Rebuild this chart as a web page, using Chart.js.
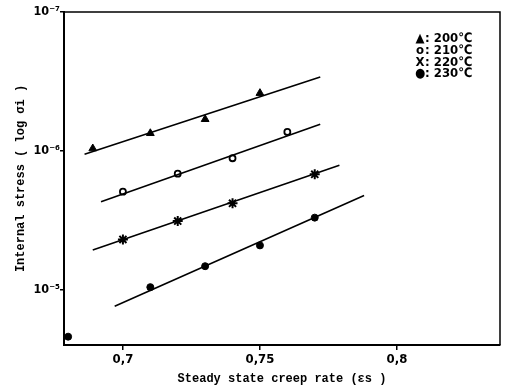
<!DOCTYPE html>
<html>
<head>
<meta charset="utf-8">
<script src="https://cdn.jsdelivr.net/npm/chart.js@4/dist/chart.umd.min.js"></script>
<style>
  html, body { margin: 0; padding: 0; background: #fff; }
  #wrap { width: 511px; height: 390px; }
</style>
</head>
<body>
<div id="wrap"><canvas id="creepChart" width="511" height="390"></canvas></div>
<script>
// y values are the exponent position on the log axis (10^-7 at the top)
const seriesNames = ['200℃', '210℃', '220℃', '230℃'];
const legendSymbols = ['▲', 'o', 'X', '●'];

const x200 = [0.689, 0.71, 0.73, 0.75];
const y200 = [-6.016, -6.126, -6.227, -6.415];
const x210 = [0.70, 0.72, 0.74, 0.76];
const y210 = [-5.705, -5.835, -5.946, -6.136];
const x220 = [0.70, 0.72, 0.74, 0.77];
const y220 = [-5.361, -5.493, -5.621, -5.830];
const x230 = [0.68, 0.71, 0.73, 0.75, 0.77];
const y230 = [-4.66, -5.017, -5.168, -5.318, -5.518];

// hand-drawn fit lines (end points)
const fitX200 = [0.686, 0.772];
const fitY200 = [-5.975, -6.531];
const fitX210 = [0.692, 0.772];
const fitY210 = [-5.633, -6.191];
const fitX220 = [0.689, 0.779];
const fitY220 = [-5.284, -5.895];
const fitX230 = [0.697, 0.788];
const fitY230 = [-4.879, -5.678];

const xTicks = [0.7, 0.75, 0.8];
const yTicks = [-7, -6, -5];

const toPoints = (xs, ys) => xs.map((x, i) => ({ x, y: ys[i] }));
const sup = { '-': '⁻', '0': '⁰', '1': '¹', '2': '²', '3': '³', '4': '⁴', '5': '⁵', '6': '⁶', '7': '⁷', '8': '⁸', '9': '⁹' };
const toSup = (n) => String(n).split('').map(c => sup[c] || c).join('');

const markerStyles = [
    { pointStyle: 'triangle', pointRadius: 4.5, backgroundColor: '#000', borderColor: '#000', borderWidth: 1 },
    { pointStyle: 'circle', pointRadius: 3, backgroundColor: '#fff', borderColor: '#000', borderWidth: 1.8 },
    { pointStyle: 'star', pointRadius: 5, backgroundColor: '#000', borderColor: '#000', borderWidth: 2 },
    { pointStyle: 'circle', pointRadius: 3.5, backgroundColor: '#000', borderColor: '#000', borderWidth: 1 }
];

const pointSets = [toPoints(x200, y200), toPoints(x210, y210), toPoints(x220, y220), toPoints(x230, y230)];
const fitSets = [toPoints(fitX200, fitY200), toPoints(fitX210, fitY210), toPoints(fitX220, fitY220), toPoints(fitX230, fitY230)];

const datasets = [];
fitSets.forEach((pts, i) => {
    datasets.push({
        label: seriesNames[i] + ' fit',
        data: pts,
        showLine: true,
        borderColor: '#000',
        borderWidth: 1.6,
        pointRadius: 0,
        fill: false
    });
});
pointSets.forEach((pts, i) => {
    datasets.push({
        label: seriesNames[i],
        data: pts,
        showLine: false,
        clip: false,
        ...markerStyles[i]
    });
});

// frame on top/right plus the text legend
const framePlugin = {
    id: 'frame',
    afterDraw(chart) {
        const { ctx, chartArea: a } = chart;
        ctx.save();
        ctx.strokeStyle = '#000';
        ctx.lineWidth = 1.5;
        ctx.beginPath();
        ctx.moveTo(a.left, a.top);
        ctx.lineTo(a.right, a.top);
        ctx.lineTo(a.right, a.bottom);
        ctx.stroke();

        ctx.fillStyle = '#000';
        ctx.font = 'bold 13px "Liberation Sans Narrow", "DejaVu Sans Condensed", sans-serif';
        ctx.textBaseline = 'middle';
        const rowY = [27, 39, 51, 62];
        seriesNames.forEach((name, i) => {
            const x = a.right - 80;
            const y = a.top + rowY[i];
            ctx.textAlign = 'center';
            ctx.fillText(legendSymbols[i], x, y);
            ctx.textAlign = 'left';
            ctx.fillText(': ' + name, x + 5, y);
        });
        ctx.restore();
    }
};

const titleFont = { family: '"Liberation Mono", "DejaVu Sans Mono", monospace', size: 12, weight: 'bold' };
const tickFont = { family: '"Liberation Sans Narrow", "DejaVu Sans Condensed", sans-serif', size: 13, weight: 'bold' };

new Chart(document.getElementById('creepChart').getContext('2d'), {
    type: 'scatter',
    data: { datasets },
    options: {
        responsive: false,
        animation: false,
        layout: { padding: { left: 8, top: 12, right: 11, bottom: 0 } },
        plugins: {
            legend: { display: false },
            tooltip: { enabled: false }
        },
        scales: {
            x: {
                type: 'linear',
                min: 0.6785,
                max: 0.8376,
                afterBuildTicks: (scale) => { scale.ticks = xTicks.map(v => ({ value: v })); },
                afterFit: (scale) => { scale.height = 45; },
                ticks: {
                    color: '#000',
                    font: tickFont,
                    padding: 2,
                    callback: (v) => String(v).replace('.', ',')
                },
                grid: { drawOnChartArea: false, drawTicks: true, tickLength: 5, color: '#000', lineWidth: 1.5 },
                border: { color: '#000', width: 2 },
                title: {
                    display: true,
                    text: 'Steady state creep rate (εs )',
                    color: '#000',
                    font: titleFont,
                    padding: { top: 2, bottom: 4 }
                }
            },
            y: {
                type: 'linear',
                reverse: true,
                min: -7,
                max: -4.6,
                afterBuildTicks: (scale) => { scale.ticks = yTicks.map(v => ({ value: v })); },
                afterFit: (scale) => { scale.width = 56; },
                ticks: {
                    color: '#000',
                    font: { family: '"DejaVu Sans Condensed", sans-serif', size: 12.5, weight: 'bold' },
                    padding: 0,
                    callback: (v) => '10' + toSup(v)
                },
                grid: { drawOnChartArea: false, drawTicks: true, tickLength: 4, color: '#000', lineWidth: 1.5 },
                border: { color: '#000', width: 2 },
                title: {
                    display: true,
                    text: 'Internal stress ( log σi )',
                    color: '#000',
                    font: titleFont,
                    padding: { top: 6, bottom: 2 }
                }
            }
        }
    },
    plugins: [framePlugin]
});
</script>
</body>
</html>
